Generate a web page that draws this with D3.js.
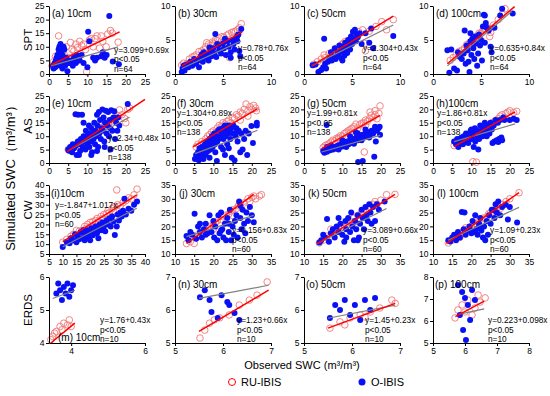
<!DOCTYPE html>
<html><head><meta charset="utf-8">
<script src="https://cdn.jsdelivr.net/npm/d3@7"></script>
<style>body{margin:0;background:#fff} text{font-family:Arial,"Liberation Sans",sans-serif}</style>
</head><body><svg id="c" width="550" height="396"></svg>
<script>
// ---------------- DATA ----------------
const rowNames = ["SPT","AS","CW","ERDS"];
const titles = ["(a) 10cm","(b) 30cm","(c) 50cm","(d) 100cm","(e) 10cm","(f) 30cm","(g) 50cm","(h)100cm","(i)10cm","(j) 30cm","(k) 50cm","(l) 100cm","(m) 10cm","(n) 30cm","(o) 50cm","(p) 100cm"];
const equations = ["y=3.099+0.69x","y=0.78+0.76x","y=2.304+0.43x","y=0.635+0.84x","y=2.34+0.48x","y=1.304+0.89x","y=1.99+0.81x","y=1.86+0.81x","y=-1.847+1.017x","y=0.156+0.83x","y=3.089+0.66x","y=1.09+0.23x","y=1.76+0.43x","y=1.23+0.66x","y=1.45+0.23x","y=0.223+0.098x"];
const pTexts = Array(16).fill("p<0.05");
const nTexts = ["n=64","n=64","n=64","n=64","n=138","n=138","n=138","n=138","n=60","n=60","n=60","n=60","n=10","n=10","n=10","n=10"];

const xDomains = [[0,25],[0,10],[0,10],[0,10],[0,25],[0,25],[0,25],[0,25],[5,40],[10,35],[10,35],[10,35],[3.4,6],[5,7],[5,7],[5,8]];
const yDomains = [[0,25],[0,10],[0,10],[0,10],[0,25],[0,25],[0,25],[0,25],[5,40],[10,35],[10,35],[10,35],[4,6],[5,7],[5,7],[5,8]];
const xTickSets = [[0,5,10,15,20,25],[0,5,10],[0,5,10],[0,5,10],[0,5,10,15,20,25],[0,5,10,15,20,25],[0,5,10,15,20,25],[0,5,10,15,20,25],[5,10,15,20,25,30,35,40],[10,15,20,25,30,35],[10,15,20,25,30,35],[10,15,20,25,30,35],[4,6],[5,6,7],[5,6,7],[5,6,7,8]];
const yTickSets = [[0,5,10,15,20,25],[0,5,10],[0,5,10],[0,5,10],[0,5,10,15,20,25],[0,5,10,15,20,25],[0,5,10,15,20,25],[0,5,10,15,20,25],[5,10,15,20,25,30,35,40],[10,15,20,25,30,35],[10,15,20,25,30,35],[10,15,20,25,30,35],[4,5,6],[5,6,7],[5,6,7],[5,6,7,8]];

// regression lines [x1,y1,x2,y2]
const redLines = [[0.5,3.3,18.4,15.5],[0.7,1.2,7,6.2],[0.8,1.2,9.3,8.5],[1.5,1.5,8.5,9.9],[4.7,4.2,25,23.7],[4.7,6,21.5,20.3],[4.6,5.4,19.8,17.8],[5.5,6.1,21.4,19.1],[10,11.3,37,35],[13,13.8,30.5,31.6],[13.5,13.8,33.7,31.6],[13.5,13.8,32.4,32.2],[3.45,4.0,4.1,4.6],[5.5,5.35,6.95,6.6],[5.5,5.45,6.9,6.2],[5.7,6.2,6.6,6.9]];
const grayLines = [[0.5,3.0,18,10],[0.7,0.8,6.8,4.8],[0.8,1.2,9.3,7.2],[1.5,1.2,8.2,9.2],[5,4.6,21,17.2],[5.2,3.5,21.5,12.2],[4.6,4.1,19.8,10.3],[5.5,8,21.4,14.6],[10,8.7,37,28.2],[13,16.3,30.5,24],[13.5,13.8,31.5,26.5],[13.9,15,32.4,26.9],[3.5,5.35,4.1,5.6],[5.5,6.35,6.95,6.75],[5.5,5.75,6.9,6.15],[5.8,6.3,6.6,6.55]];

// O-IBIS (blue) and RU-IBIS (red) points
const blueA = [[1,3],[1.2,2],[1.5,4],[1.8,5],[2,3],[2,6],[2.2,7],[2.4,4],[2.5,9],[2.7,10],[2.8,5],[3,11],[3,3],[3.2,8],[3.3,6],[3.5,2],[3.5,7],[3.7,4],[3.8,10],[4,5],[4,9],[4.2,3],[4.5,6],[4.8,1],[5,4],[5.3,5],[5.5,4],[6,5],[6.2,3],[6.5,6],[7,4],[7.2,7],[7.5,5],[8,5],[8.5,7],[9,4],[10.2,15.5],[10.5,12],[10,2.5],[11.5,6],[12,5],[12.5,6],[13.6,6.5],[14,8],[14.5,6],[15,7],[15.7,21.3],[16.6,4.6],[18.2,3.6],[3,8.5],[2.6,7.5],[1.6,2.5]];
const redA = [[0.8,3],[1.2,4.5],[1.7,6.5],[2,5.5],[2.5,14],[2.8,9],[3,10],[3.5,8],[4,7],[4.5,10],[5,6],[5.6,11.6],[6,9],[6.5,8.5],[7,11],[7.4,9.7],[8,12],[8.5,10.5],[9,11],[9.8,0.8],[10.5,12.5],[11,13],[12,13],[12.5,14],[13.2,9.5],[13.6,14],[14,12],[14.9,10],[15.3,14.7],[16,16],[16.5,15],[18,11.7],[11.5,10],[9.5,9],[4.5,4]];
const blueB = [[0.7,0.3],[0.8,0.8],[0.9,1.2],[1,0.5],[1.2,1.4],[1.4,1],[1.6,1.8],[1.8,1.2],[2,2.2],[2.2,1.5],[2.4,2],[2.5,1],[2.7,2.6],[2.9,1.8],[3,3.2],[3.2,2.4],[3.4,2.8],[3.5,2],[3.7,3.4],[3.8,2.6],[4,3.8],[4.1,3],[4.2,5.9],[4.3,2.5],[4.5,4.2],[4.6,3.5],[4.8,3],[5,4.5],[5.1,3.8],[5.3,2.8],[5.5,4.8],[5.6,4],[5.8,3.2],[5.8,2.4],[6,5],[6.1,4.4],[6.2,3.6],[6.4,5.3],[6.5,4.8],[6.6,5.8],[6.7,3.4],[6.8,2.6],[6.9,6.6],[6.5,5.6],[3.6,3.9],[2.8,2.9],[5.2,5.2],[4.4,4.4]];
const redB = [[0.7,1.3],[0.9,1.6],[1.2,1.5],[1.5,2.2],[1.8,2.5],[2.2,2.8],[2.5,3.3],[2.8,3.4],[3,3.6],[3.2,4],[3.5,4.4],[3.7,4.2],[3.9,4.7],[4.2,5],[4.4,4.9],[4.6,5.3],[4.9,5.5],[5.1,5.4],[5.4,5.7],[5.6,5.9],[5.9,6.1],[6.1,6.2],[6.3,6.3],[6.5,6.5],[6.9,7.4],[5.7,2.4],[4,4.5],[3.3,4.6],[2,2.6],[6.7,6.8]];
const blueC = [[0.9,1.3],[1.2,1.4],[1.5,0.3],[1.8,0.6],[2,1],[2.1,5.2],[2.2,1.5],[2.3,0.8],[2.5,1.8],[2.7,2.4],[2.8,3.2],[3,2.6],[3.2,3.8],[3.3,2.2],[3.5,3],[3.6,2.6],[3.8,3.4],[3.9,2.3],[4,4],[4.1,3.2],[4.2,2.7],[4.3,4.6],[4.4,3.8],[4.5,3.1],[4.6,5],[4.7,4.2],[4.8,3.6],[4.9,5.5],[5,4.4],[5.1,6.2],[5.2,5.1],[5.3,6.5],[5.4,4.8],[5.5,5.8],[5.6,5.4],[5.8,6],[6,4.4],[6.4,6],[6.8,4.6],[7,6.7],[7.2,3.8],[9.3,5.6],[3.7,4.2],[2.9,2],[4,2]];
const redC = [[1,1.4],[1.4,1.8],[1.8,2.2],[2.2,2.4],[2.6,3],[3,3.2],[3.3,3.6],[3.6,4],[3.9,4.3],[4.1,4.5],[4.3,4.8],[4.6,4.9],[4.9,5.3],[5.1,5.6],[5.4,5.9],[5.7,6.2],[6.1,6.5],[6.3,4.5],[6.4,3.4],[6.8,6.3],[8.1,7.7],[8.6,6.5],[9.3,8],[7.5,7],[5,4.8],[3.7,3.7],[2.1,2.8]];
const blueD = [[1.5,3.5],[1.9,3.6],[1.7,0.2],[2.2,0.8],[2.5,0.5],[2.8,2.5],[3,2.2],[3.2,3],[3.3,6.4],[3.4,1.5],[3.5,4.2],[3.6,3.5],[3.7,1.8],[3.8,0.3],[3.9,4.8],[4,2.8],[4.1,5.2],[4.2,3.8],[4.3,2.2],[4.4,5.5],[4.5,4.5],[4.6,1.2],[4.7,3],[4.8,5.8],[4.9,4.2],[5,5],[5.1,2],[5.2,7],[5.3,8.7],[5.4,8.6],[5.5,7.5],[5.6,6.8],[5.8,6.4],[6,4],[6.1,3.2],[6.4,6.8],[7,8.6],[7.2,9.6],[8.3,8.9],[5.4,4.6],[4.2,4.5],[3.9,6],[2.6,3.2]];
const redD = [[1.8,2],[2.1,2.4],[2.4,2.8],[2.7,3.3],[3,3.5],[3.3,3.8],[3.5,4.3],[3.8,4.6],[4,4.7],[4.2,5.1],[4.4,5.2],[4.6,5.6],[4.8,6],[5,6],[5.2,6.4],[5.4,6.6],[5.6,6.9],[5.8,6.7],[6,6.1],[6.3,7.2],[6.8,8],[7.2,8.8],[7.5,9.6],[4.1,4.2],[3.6,3.6],[5.9,5.5],[5.1,4.8]];
const blueE = [[5,5],[5.2,4.6],[5.5,6],[5.8,5.2],[6,4],[6.2,7],[6.5,5.5],[6.9,18.2],[7,6.5],[7.2,3],[7.5,8],[7.6,18],[8,7],[8.1,4.5],[8.3,9],[8.6,18],[8.8,6],[9,10],[9.2,8],[9.5,5],[9.6,12],[9.8,9],[10,7],[10.2,11],[10.4,14],[10.5,6],[10.7,10],[10.9,8],[11,13],[11.2,4],[11.4,11],[11.6,9],[11.8,15],[12,7],[12.1,12],[12.3,10],[12.5,18],[12.6,14],[12.8,6],[13,19],[13.1,11],[13.3,16],[13.5,9],[13.7,13],[13.9,20],[14,12],[14.2,17],[14.4,8],[14.6,15],[14.8,19.5],[15,11],[15.2,14],[15.4,19],[15.6,10],[15.8,16],[16,13],[16.2,19.7],[16.5,12],[16.8,17],[17,19.3],[17.2,9],[17.5,15],[17.8,12],[18,17],[18.3,14],[16,5],[11,3],[20.5,22],[9,15],[7.8,3],[12.5,4.5],[14.5,6]];
const redE = [[5,5],[5.5,5.2],[6,6],[6.5,5.8],[7,6.5],[7.5,7.5],[8,8],[8.5,7.8],[9,8.5],[9.5,9.2],[10,9.5],[10.5,10],[11,10.5],[11.5,11],[12,11.5],[12.5,12],[13,12.6],[13.5,13],[14,13.5],[14.5,14],[15,14.5],[15.5,15],[16,15.5],[16.5,16.2],[17,16.5],[17.5,17],[18,17.5],[18.4,19.8],[19,18],[19.7,16.6],[20,15],[20.5,20],[21,20.5],[8,6.5],[12,13.5]];
const blueF = [[5.2,1.5],[5.5,3],[5.8,2],[6,4],[6.2,1],[6.4,5.5],[6.6,3],[6.8,2.5],[7,6],[7.2,4],[7.4,1.5],[7.6,5],[7.8,7],[8,3],[8.2,6],[8.4,8],[8.6,4.5],[8.8,7],[9,9],[9.2,5],[9.4,8],[9.6,10],[9.8,6],[10,9],[10.2,11],[10.4,7],[10.6,10],[10.9,0.7],[11,8],[11.2,12],[11.4,9],[11.6,12.6],[11.8,10],[12,6],[12.2,11],[12.4,13],[12.6,9],[12.8,12],[13,14],[13.2,10],[13.4,13],[13.6,7],[13.8,11],[14,14],[14.2,12],[14.4,9],[14.6,13],[14.8,2],[15,11],[15.2,14],[15.5,1],[15.8,10],[16,13],[16.3,8],[16.6,12],[17,4],[17.3,11],[17.6,5],[18,9],[18.4,12],[18.8,3],[19.2,11],[19.9,13.8],[20.3,7.5],[21.3,15],[21.3,14],[12.5,5],[9,2],[7,1.8],[13,3],[14,5.5],[16,11.5],[8,5.5],[10.5,4]];
const redF = [[5.5,6],[6,7],[6.5,6.5],[7,8],[7.5,7.5],[8,9],[8.5,10],[9,10.5],[9.5,11.5],[10,12],[10.5,11],[11,13],[11.5,14],[12,13.5],[12.5,15],[13,14.5],[13.5,15.5],[14,16],[14.5,15],[15,17],[15.5,16.5],[16,18],[16.5,17.5],[17,19],[17.5,18.5],[18,20],[18.5,22],[19,19.5],[19.5,21],[20,20],[20.5,21.5],[21,20.5],[21.2,19.5],[11,10],[13,12],[15,13.5],[17,16],[9,8.5],[19,17.5]];
const blueG = [[5,4.5],[5.3,3.8],[5.6,5],[5.9,14.2],[6,4.2],[6.4,5.2],[6.8,4.8],[7.2,5.8],[7.6,5],[8,6],[8.4,5.4],[8.8,6.5],[9.2,5.8],[9.6,7],[10,6.2],[10.4,7.5],[10.8,6.5],[11.2,8],[11.6,7],[12,8.5],[12.4,7.5],[12.8,9],[13.2,8],[13.6,9.5],[14,8.5],[14.1,0.4],[14.4,10],[14.8,9],[15.2,10.5],[15.3,0.7],[15.6,9.5],[16,11],[16.4,10],[16.8,11.5],[17.2,10.5],[17.6,12],[18,11],[18.3,2.3],[18.4,12.5],[18.7,8],[19,12],[19.4,13],[19.7,13.5],[19.8,10.5],[11,6],[9,5],[13,7.2],[15,8.5],[17,9.5],[12,10],[10,8.5],[14,11],[16,12.5],[7,6.5],[18.5,13.5],[13.5,11.5],[6,6]];
const redG = [[5,5.8],[5.5,6.5],[6,6.8],[6.5,7.2],[7,7.8],[7.5,8.5],[8,8.2],[8.5,9.2],[9,9.5],[9.5,10.2],[10,10],[10.5,11],[11,11.5],[11.5,12],[12,12.5],[12.5,13],[13,13.5],[13.5,14.5],[14,13],[14.5,14.2],[15,14.8],[15.5,15],[15.7,4.1],[16,16],[16.5,15.5],[17,16.5],[17.5,17.8],[18,17],[18.5,18],[19,16.5],[19.8,21.3],[19.5,18.5],[16,14],[12,11.2],[9,9],[17.2,19],[18.5,19.5]];
const blueH = [[5.5,8],[6,7],[6.3,9],[6.6,6],[7,8],[7.4,9.5],[7.8,7],[8,10],[8.3,8],[8.6,11],[8.9,9],[9.2,7.5],[9.5,10],[9.8,12],[10,9],[10.3,11],[10.6,6],[10.9,13],[11.2,10],[11.5,12],[11.8,5],[12,11],[12.3,14],[12.6,12],[12.9,10],[13.2,13],[13.5,15],[13.8,12],[14.1,14],[14.4,13],[14.7,11],[15,15],[15.3,12.5],[15.5,7.5],[15.8,14],[16,8],[16.3,16],[16.6,8.5],[16.9,15],[17.2,9],[17.5,16],[17.8,9.5],[18,8.5],[18.3,17],[18.6,16],[20,16],[21,16.5],[21.8,16],[9,8.5],[11,8],[12,9],[14,10],[10,12.5],[13,11],[7,9],[17,7.8]];
const redH = [[5.5,6.5],[6,8],[6.5,7],[7,8],[7.5,9],[8,8.5],[8.5,9.5],[9,10],[9.5,9.5],[10,10.5],[10.4,0.5],[10.5,11],[11,10.5],[11.3,0.3],[11.5,11.5],[12,12],[12.5,12.5],[13,12.8],[13.5,13],[14,13.5],[14.5,14],[15,14.8],[15.5,15],[16,15.5],[16.5,16],[17,16.5],[17.5,17.5],[18,18],[18.5,17],[19,18.5],[19.5,19],[20,19.5],[21,18.8],[21.8,19.3],[12,11],[9,9],[15,13.5]];
const blueI = [[10,8.5],[11.5,11],[12.5,10.5],[13,13],[14,12],[14.5,15],[15,11],[15.5,14],[16,12.5],[16.5,16],[17,13],[17.5,17],[18,14],[18,12],[18.5,15],[19,17],[19.5,13.5],[20,16],[20.5,18],[21,14.5],[21.5,17],[22,19],[22.5,15.5],[23,18],[23.5,20],[24,17],[24.5,21],[25,19],[25.5,16.5],[26,22],[26.5,20],[27,23],[27.5,19],[28,24],[28.5,21.5],[29,14.7],[29.7,18.9],[30,25],[30.5,22],[31,26],[31.5,24],[32,27],[32.5,33],[33,25],[34,28],[35,27],[36,30],[37.1,31.6],[20,12],[23,13]];
const redI = [[10,11],[11.5,12.5],[13,14],[14,15],[15,17],[16,16.5],[17,17],[18,19],[18.5,18],[19,20],[20,21],[20.5,19.5],[21,21.5],[22,22],[22.5,23],[23,21.5],[24,24],[24.5,23],[25,25],[26,25.5],[26.5,27],[27,26],[28,28],[28.5,27],[29,29],[29.7,37.5],[30,30],[31,29.5],[32,31],[33,32],[34,33.5],[35,33],[36,35],[37.1,37.9],[17,15.5],[22,20]];
const blueJ = [[13,16.5],[13.5,15],[14,18],[14.5,17],[15.1,24.6],[15.5,15.5],[16,20],[16.5,18],[17,16],[17.5,19],[18,21],[18.5,17.5],[19,24],[19.5,18],[20,22],[20.2,16],[20.5,20],[21,15],[21.3,24],[21.6,17.5],[22,25],[22.3,19],[22.6,16],[23,21],[23.3,15],[23.6,23],[24,18],[24.3,26],[24.6,15],[25,20],[25.3,17],[25.6,22],[26,24],[26.3,16],[26.7,29],[27,23],[27.3,19],[27.6,26],[28,21],[28.3,17.5],[28.6,25],[29,22],[29.5,27],[30,24],[30.5,21.5],[16.5,21],[18,17],[22,18.5],[24,21],[27,27.5]];
const redJ = [[13,13.8],[14,14.5],[15,13.8],[15.5,16],[16,17],[17,17.5],[18,18.5],[18.5,19.5],[19,20],[20,20.5],[20.5,21.5],[21,22],[22,22.5],[22.5,23.5],[23,24],[24,24.5],[24.5,25.5],[25,26],[26,26.5],[26.5,27.5],[27,28],[28,28.5],[28.5,27],[29,30],[29.5,29],[30,30.5],[30.5,31],[31,30],[32,31],[32.5,31.5],[20,19],[25,24]];
const blueK = [[14,14.2],[14.5,15],[15,17],[15.5,16],[16,22.7],[16.5,14.4],[17,17.5],[17.5,19],[18,16],[18.5,20],[19,18],[19.5,21],[20,17],[20.5,14.4],[20.8,22],[21,19],[21.5,23],[22,18],[22.3,25],[22.6,20],[23,15],[23.3,22],[23.6,19],[24,24],[24.3,16],[24.6,21],[25,26],[25.3,23],[25.6,19],[26,27],[26.3,24],[26.6,22],[27,28],[27.3,25],[27.6,21],[28,27],[28.5,22],[29,28],[29.5,26],[31,29],[24,15],[21,16],[19,23]];
const redK = [[14,14],[15,15],[16,16.5],[17,16.5],[18,17.8],[18.5,18.5],[19,19.5],[20,20],[20.5,19.5],[21,21],[22,22],[22.5,21],[23,23],[24,24],[24.5,23],[25,25],[25.5,25.5],[26,26],[26.5,26.5],[27,27],[28,28],[28.5,29],[29,28],[30,29.5],[31.5,31.5],[33.7,31.6],[17,19],[23,21.5]];
const blueL = [[14,15],[14.5,14.5],[15,16],[15.5,17],[16,15],[16.5,18],[17,16],[17.5,25.2],[18.2,25],[18,19],[18.5,17],[19,18.5],[19.5,20],[20,17.5],[20.3,22],[20.6,18],[21,24],[21.3,19],[21.6,17],[22,21],[22.3,23],[22.6,18.5],[23,16],[23.3,20],[23.6,15],[24,22],[24.3,17],[24.6,24],[25,21],[25.3,26],[25.8,25.9],[26,23],[26.3,28],[26.6,25],[27,29],[27.5,24],[28,27],[28.9,27.8],[29.5,22.5],[30,27],[31.9,21.4],[20,18.5],[22,20]];
const redL = [[14,14],[15,15],[16,16],[17,17.5],[18,18.5],[18.5,19.5],[19,19],[20,20],[21,21],[22,22],[22.5,21.5],[23,23],[24,23.5],[24.5,24.5],[25,25],[26,26],[26.5,25.5],[27,27],[27.5,26.5],[28,28],[29,29],[30,30],[32.4,32.2],[17,16],[21,19.5]];
const blueM = [[3.6,5.5],[3.65,5.8],[3.7,5.6],[3.75,5.3],[3.8,5.7],[3.85,5.5],[3.9,5.8],[3.95,5.4],[4.0,5.6],[4.05,5.75]];
const redM = [[3.45,4.1],[3.5,4.2],[3.55,4.3],[3.6,4.35],[3.7,4.5],[3.75,4.4],[3.8,4.6],[3.9,4.55],[3.95,4.7],[4.0,4.5]];
const blueN = [[5.52,6.39],[5.62,6.6],[5.72,6.3],[5.76,5.94],[5.89,5.76],[5.97,6.45],[6.09,6.24],[6.13,6.15],[6.24,5.91],[6.34,5.7]];
const redN = [[5.62,5.39],[5.72,5.6],[5.93,5.76],[6.13,5.85],[6.34,6.15],[6.55,6.3],[6.92,6.85],[5.52,5.15],[5.82,5.7],[6.71,6.45]];
const blueO = [[5.54,5.76],[5.65,6.15],[5.75,6.0],[5.85,6.3],[5.96,5.85],[6.06,6.15],[6.17,5.7],[6.27,6.3],[6.38,6.0],[6.48,6.36]];
const redO = [[5.54,5.45],[5.75,5.64],[5.96,5.76],[6.17,5.85],[6.38,5.94],[6.58,6.06],[6.83,6.3],[6.9,6.2],[5.85,5.55],[6.27,5.79]];
const blueP = [[5.78,7.64],[5.91,7.32],[6.0,7.05],[6.09,6.73],[5.84,6.27],[6.16,6.05],[5.94,5.59],[6.22,7.41],[6.03,5.14],[6.31,6.95]];
const redP = [[5.78,6.5],[5.91,6.73],[6.09,6.95],[6.31,6.59],[6.47,6.86],[6.0,6.41],[6.63,7.05],[5.69,6.14],[6.22,6.27],[6.41,7.18]];

const blueSets = [blueA,blueB,blueC,blueD,blueE,blueF,blueG,blueH,blueI,blueJ,blueK,blueL,blueM,blueN,blueO,blueP];
const redSets = [redA,redB,redC,redD,redE,redF,redG,redH,redI,redJ,redK,redL,redM,redN,redO,redP];

// ---------------- LAYOUT ----------------
const colX = [49,175,304,433], PW = 96;
const rowTB = [[6,74],[96,163],[185,254],[277,343]];
const titlePos = [[52,17],[178,17],[307,17],[436,17],[52,107],[177,107],[307,107],[436,107],[51,197],[179,197],[308,197],[437,197],[58,341],[178,288],[306,288],[435,288]];
const statPos = [[114,52.5],[238,51],[363,51],[490,51],[108,141],[177,116],[307,116],[437,116],[55,208],[232,233],[363,233],[490,233],[100,323],[237,323],[365,323],[488,323]];
const rowLabelY = [40,126,210,310];

const RED = "#ff0000", REDPT = "#f07878", BLUE = "#0a10f5", GRAY = "#808080";
const svg = d3.select("#c");

for (let k = 0; k < 16; k++) {
  const r = Math.floor(k/4), c = k%4;
  const x0 = colX[c], x1 = x0 + PW, y0 = rowTB[r][0], y1 = rowTB[r][1];
  const xs = d3.scaleLinear().domain(xDomains[k]).range([x0, x1]);
  const ys = d3.scaleLinear().domain(yDomains[k]).range([y1, y0]);
  const g = svg.append("g");
  g.selectAll("circle.r").data(redSets[k]).join("circle")
    .attr("cx", d=>xs(d[0])).attr("cy", d=>ys(d[1])).attr("r", 3.3)
    .attr("fill","none").attr("stroke",REDPT).attr("stroke-width",0.9);
  g.selectAll("circle.b").data(blueSets[k]).join("circle")
    .attr("cx", d=>xs(d[0])).attr("cy", d=>ys(d[1])).attr("r", 3)
    .attr("fill",BLUE);
  const gl = grayLines[k], rl = redLines[k];
  g.append("line").attr("x1",xs(gl[0])).attr("y1",ys(gl[1])).attr("x2",xs(gl[2])).attr("y2",ys(gl[3]))
    .attr("stroke",GRAY).attr("stroke-width",1.2);
  g.append("line").attr("x1",xs(rl[0])).attr("y1",ys(rl[1])).attr("x2",xs(rl[2])).attr("y2",ys(rl[3]))
    .attr("stroke",RED).attr("stroke-width",1.5);
  const ax = g.append("g").attr("transform",`translate(0,${y1})`)
    .call(d3.axisBottom(xs).tickValues(xTickSets[k]).tickSize(3).tickSizeOuter(0).tickPadding(1.5).tickFormat(d3.format("d")));
  const ay = g.append("g").attr("transform",`translate(${x0},0)`)
    .call(d3.axisLeft(ys).tickValues(yTickSets[k]).tickSize(3).tickSizeOuter(0).tickPadding(1.5).tickFormat(d3.format("d")));
  [ax, ay].forEach(a => {
    a.selectAll("path,line").attr("stroke","#000").attr("stroke-width",1);
    a.selectAll("text").attr("font-size","8.5px").attr("fill","#000").style("font-family","Arial, 'Liberation Sans', sans-serif");
  });
  g.append("text").attr("x",titlePos[k][0]).attr("y",titlePos[k][1]).attr("font-size","10px").text(titles[k]);
  const st = [equations[k], pTexts[k], nTexts[k]];
  st.forEach((t,i) => {
    g.append("text").attr("x",statPos[k][0]).attr("y",statPos[k][1] + i*9.5).attr("font-size","8.3px").text(t);
  });
}

rowNames.forEach((n,i) => {
  svg.append("text").attr("transform",`translate(32,${rowLabelY[i]}) rotate(-90)`)
    .attr("text-anchor","middle").attr("font-size","11.5px").text(n);
});
svg.append("text").attr("transform","translate(15,175) rotate(-90)").attr("text-anchor","middle")
  .attr("font-size","13px").text("Simulated SWC（m³/m³）");
svg.append("text").attr("x",302).attr("y",369).attr("text-anchor","middle").attr("font-size","11px").text("Observed SWC (m³/m³)");
svg.append("circle").attr("cx",232).attr("cy",382).attr("r",3.5).attr("fill","none").attr("stroke",RED).attr("stroke-width",1);
svg.append("text").attr("x",241).attr("y",386).attr("font-size","11px").text("RU-IBIS");
svg.append("circle").attr("cx",362).attr("cy",382).attr("r",3.5).attr("fill",BLUE);
svg.append("text").attr("x",371).attr("y",386).attr("font-size","11px").text("O-IBIS");
</script></body></html>
